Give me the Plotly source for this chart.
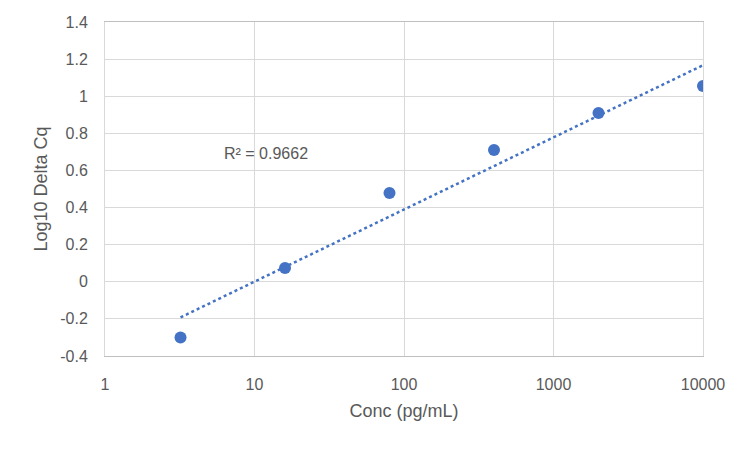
import numpy as np
import plotly.graph_objects as go

conc = [3.2, 16, 80, 400, 2000, 10000]
log_delta_cq = [-0.30, 0.074, 0.478, 0.71, 0.909, 1.055]
y_ticks = [-0.4, -0.2, 0, 0.2, 0.4, 0.6, 0.8, 1, 1.2, 1.4]
x_ticks = [1, 10, 100, 1000, 10000]
r2_label = "R² = 0.9662"

BLUE = "#4472C4"
GREY = "#595959"

# logarithmic trendline, like Excel's
slope, icpt = np.polyfit(np.log10(conc), log_delta_cq, 1)
trend_x = [conc[0], conc[-1]]
trend_y = [icpt + slope * np.log10(v) for v in trend_x]

fig = go.Figure()
fig.add_trace(go.Scatter(x=trend_x, y=trend_y, mode="lines",
                         line=dict(color=BLUE, width=2.5, dash="dot"),
                         hoverinfo="skip", showlegend=False))
fig.add_trace(go.Scatter(x=conc, y=log_delta_cq, mode="markers",
                         marker=dict(color=BLUE, size=12),
                         showlegend=False))

fig.add_annotation(x=np.log10(6.1), y=0.694, text=r2_label, showarrow=False,
                   xanchor="left", yanchor="middle",
                   font=dict(size=16, color=GREY))

fig.update_xaxes(type="log", range=[0, 4], tickvals=x_ticks,
                 ticktext=[str(v) for v in x_ticks],
                 showgrid=True, gridcolor="#d9d9d9", gridwidth=1,
                 showline=True, linecolor="#bfbfbf", linewidth=1, mirror=True,
                 zeroline=False, ticks="", automargin=False,
                 ticklabelstandoff=14,
                 title=dict(text="Conc (pg/mL)", font=dict(size=18, color=GREY),
                            standoff=12),
                 tickfont=dict(size=16, color=GREY))
fig.update_yaxes(range=[-0.4, 1.4], tickvals=y_ticks,
                 ticktext=[f"{v:g}" for v in y_ticks],
                 showgrid=True, gridcolor="#d9d9d9", gridwidth=1,
                 showline=True, linecolor="#d9d9d9", linewidth=1, mirror=True,
                 zeroline=False, ticks="", automargin=False,
                 ticklabelstandoff=13,
                 title=dict(text="Log10 Delta Cq", font=dict(size=18, color=GREY),
                            standoff=7),
                 tickfont=dict(size=16, color=GREY))

# page body adds an 8px offset, so margins are shifted to compensate
fig.update_layout(width=750, height=449,
                  margin=dict(l=97, r=55, t=14, b=101),
                  plot_bgcolor="white", paper_bgcolor="white",
                  font=dict(family="Liberation Sans", color=GREY))

fig.write_html("out.html")
